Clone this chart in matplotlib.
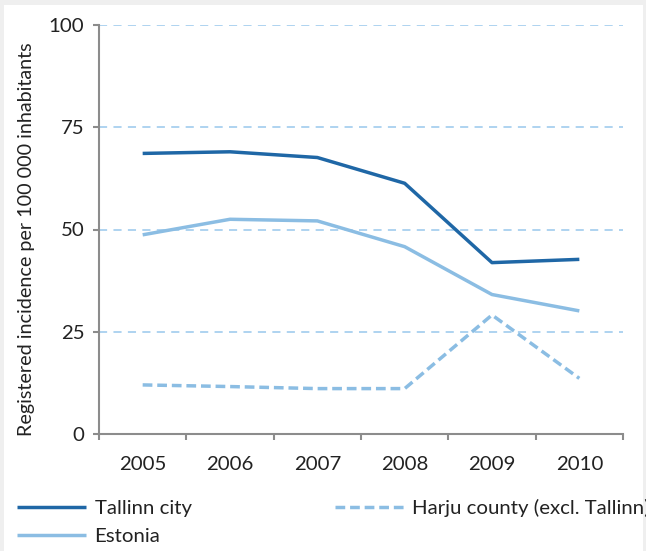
import matplotlib.pyplot as plt
from matplotlib.patches import Rectangle
from matplotlib.ticker import FixedLocator, NullFormatter

years = ["2005", "2006", "2007", "2008", "2009", "2010"]
tallinn = [68.6, 69.0, 67.6, 61.3, 41.9, 42.7]
harju = [12.0, 11.6, 11.1, 11.1, 29.1, 13.6]
estonia = [48.7, 52.5, 52.1, 45.8, 34.1, 30.1]
y_ticks = [0, 25, 50, 75, 100]

DARK = "#1f67a6"
LIGHT = "#8bbde3"
GRID = "#a8d0ef"
AXIS = "#8c8c8c"
TEXT = "#222222"
FS = 14.7

plt.rcParams["font.family"] = ["Lato", "DejaVu Sans"]

W, H = 646, 551
fig = plt.figure(figsize=(W / 100, H / 100), dpi=100)
fig.patch.set_facecolor("#efefef")
# white panel inside the thin grey frame
fig.patches.append(Rectangle((4 / W, 0), 639 / W, 546 / H,
                             transform=fig.transFigure, facecolor="white",
                             edgecolor="none", zorder=-10))

ax = fig.add_axes([99 / W, 1 - 434 / H, 524 / W, 409 / H])
ax.set_facecolor("none")

x = list(range(len(years)))
ax.plot(x, tallinn, color=DARK, lw=2.5, solid_capstyle="butt", label="Tallinn city")
ax.plot(x, estonia, color=LIGHT, lw=2.5, solid_capstyle="butt", label="Estonia")
ax.plot(x, harju, color=LIGHT, lw=2.5, dashes=(2.8, 1.4),
        label="Harju county (excl. Tallinn)")

ax.set_xlim(-0.5, len(years) - 0.5)
ax.set_ylim(0, 100)
ax.set_yticks(y_ticks)
ax.set_xticks(x)
ax.set_xticklabels(years)
ax.xaxis.set_minor_locator(FixedLocator([i - 0.5 for i in range(len(years) + 1)]))
ax.xaxis.set_minor_formatter(NullFormatter())
ax.tick_params(axis="x", which="major", length=0, pad=16, labelsize=FS, colors=TEXT)
ax.tick_params(axis="x", which="minor", length=4.5, width=1.5, color=AXIS)
ax.tick_params(axis="y", length=4.5, width=1.5, color=AXIS, pad=6, labelsize=FS,
               labelcolor=TEXT)

for yv in y_ticks[1:]:
    ax.axhline(yv, color=GRID, lw=1.3, dashes=(4.5, 3.5), zorder=0)

for side in ("top", "right"):
    ax.spines[side].set_visible(False)
for side in ("left", "bottom"):
    ax.spines[side].set_color(AXIS)
    ax.spines[side].set_linewidth(1.5)

fig.text(27 / W, 1 - 239 / H, "Registered incidence per 100 000 inhabitants",
         rotation=90, ha="center", va="center", fontsize=14.2, color=TEXT)

h, l = ax.get_legend_handles_labels()
fig.legend(h, l, loc="upper left", bbox_to_anchor=(17 / W, 1 - 499 / H),
           ncol=2, frameon=False, fontsize=FS, handlelength=3.4,
           handletextpad=0.4, columnspacing=7.0, labelspacing=0.52,
           borderpad=0, borderaxespad=0, labelcolor=TEXT)

fig.savefig("out.png", dpi=100, facecolor=fig.get_facecolor())
